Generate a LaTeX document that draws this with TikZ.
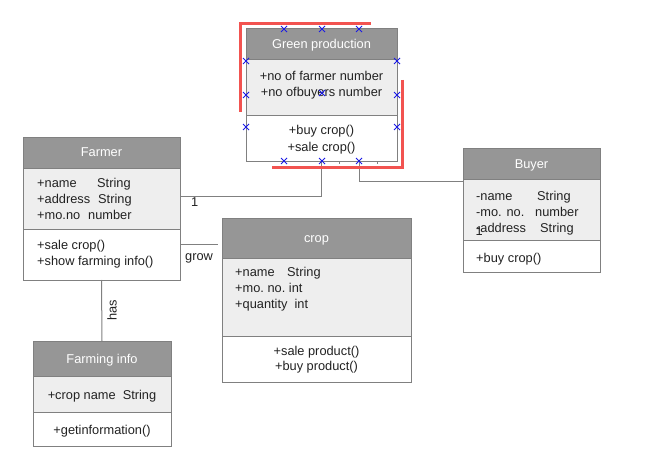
\documentclass[tikz,border=0pt]{standalone}
\usepackage{fontspec}
\setmainfont{Liberation Sans}
\definecolor{hdrc}{HTML}{969696}
\definecolor{attc}{HTML}{EEEEEE}
\definecolor{bordc}{HTML}{808080}
\definecolor{txtc}{HTML}{222222}
\definecolor{redc}{HTML}{F25350}
\definecolor{linec}{HTML}{808080}
\definecolor{selc}{HTML}{1A1AE6}
\newcommand{\fs}{\fontsize{12.8}{16}\selectfont}
\tikzset{
  sec/.style={draw=bordc, line width=1pt, inner sep=0pt, outer sep=0pt, anchor=north west},
  hdr/.style={sec, fill=hdrc, text=white, font=\fs, text height=11pt, text depth=2pt},
  att/.style={sec, fill=attc},
  mth/.style={sec, fill=white},
  t/.style={text=txtc, inner sep=0pt, font=\fs, anchor=base west},
  tc/.style={t, anchor=base},
  conn/.style={draw=linec, line width=1pt},
  sel/.style={draw=redc, line width=3pt},
  mk/.style={draw=selc, line width=0.8pt}
}
\newcommand{\xmark}[2]{\draw[mk] (#1-3,#2-3) -- (#1+3,#2+3) (#1-3,#2+3) -- (#1+3,#2-3);}
\begin{document}
\begin{tikzpicture}[x=1pt,y=-1pt]
\useasboundingbox[fill=white] (0,0) rectangle (654,452);

% Green production
\node[hdr, minimum width=151pt, minimum height=31pt] (gph) at (246,29) {Green production};
\node[att, minimum width=151pt, minimum height=56pt] (gpa) at (246,60) {};
\node[mth, minimum width=151pt, minimum height=45pt] (gpm) at (246,116) {};
\node[tc] at (321.5,80.5) {+no of farmer number};
\node[tc] at (321.5,96.5) {+no ofbuyers number};
\node[tc] at (321.5,135) {+buy crop()};
\node[tc] at (321.5,151) {+sale crop()};

% Farmer
\node[hdr, minimum width=157pt, minimum height=31pt] (fh) at (23,137) {Farmer};
\node[att, minimum width=157pt, minimum height=61pt] (fa) at (23,168) {};
\node[mth, minimum width=157pt, minimum height=51pt] (fm) at (23,229) {};
\node[t] at (37,187.5) {+name};
\node[t] at (97,187.5) {String};
\node[t] at (37,203.5) {+address};
\node[t] at (98,203.5) {String};
\node[t] at (37,219.5) {+mo.no};
\node[t] at (88,219.5) {number};
\node[t] at (37,249.5) {+sale crop()};
\node[t] at (37,265.5) {+show farming info()};

% Buyer
\node[hdr, minimum width=137pt, minimum height=31pt] (bh) at (463,148) {Buyer};
\node[att, minimum width=137pt, minimum height=61pt] (ba) at (463,179) {};
\node[mth, minimum width=137pt, minimum height=32pt] (bm) at (463,240) {};
\node[t] at (476,200) {-name};
\node[t] at (537,200) {String};
\node[t] at (476,216) {-mo. no.};
\node[t] at (535,216) {number};
\node[t] at (476,232) {-address};
\node[t] at (540,232) {String};
\node[t] at (476,262.5) {+buy crop()};

% crop
\node[hdr, minimum width=189pt, minimum height=40pt] (ch) at (222,218) {crop};
\node[att, minimum width=189pt, minimum height=78pt] (ca) at (222,258) {};
\node[mth, minimum width=189pt, minimum height=46pt] (cm) at (222,336) {};
\node[t] at (235,276.5) {+name};
\node[t] at (287,276.5) {String};
\node[t] at (235,292.5) {+mo.\ no.\ int};
\node[t] at (235,308.5) {+quantity\ \ int};
\node[tc] at (316.5,355) {+sale product()};
\node[tc] at (316.5,370.5) {+buy product()};

% Farming info
\node[hdr, minimum width=138pt, minimum height=35pt] (fih) at (33,341) {Farming info};
\node[att, minimum width=138pt, minimum height=36pt] (fia) at (33,376) {};
\node[mth, minimum width=138pt, minimum height=34pt] (fim) at (33,412) {};
\node[tc] at (102,399) {+crop name\ \ String};
\node[tc] at (102,434.5) {+getinformation()};

% connectors
\coordinate (growend) at (218,244);
\draw[conn] (gpm.south) |- ([yshift=2.5pt]fa.east);
\draw[conn] ([xshift=37.5pt]gpm.south) |- ([yshift=28pt]ba.west);
\draw[conn] ([yshift=10.5pt]fm.east) -- (growend);
\draw[conn] (fm.south) -- (fih.north);
\node[t] (l1) at (191,206) {1};
\node[t] (l2) at (475.5,235) {1};
\node[t] (lgrow) at (185,260) {grow};
\node[text=txtc, inner sep=0pt, font=\fs, rotate=90] (lhas) at (112,310) {has};

% selection decoration
\draw[sel] (240,112) -- (240,24) -- (371,24);
\draw[sel] (402,80) -- (402,167) -- (272,167);
\draw[draw=bordc, line width=0.8pt] (339,162) -- (339,164) (377,162) -- (377,164);
\xmark{284}{29}\xmark{322}{29}\xmark{359}{29}
\xmark{246}{61}\xmark{246}{95}\xmark{246}{127}
\xmark{397}{61}\xmark{397}{95}\xmark{397}{127}
\xmark{322}{93}
\xmark{284}{161}\xmark{322}{161}\xmark{359}{161}
\end{tikzpicture}
\end{document}
